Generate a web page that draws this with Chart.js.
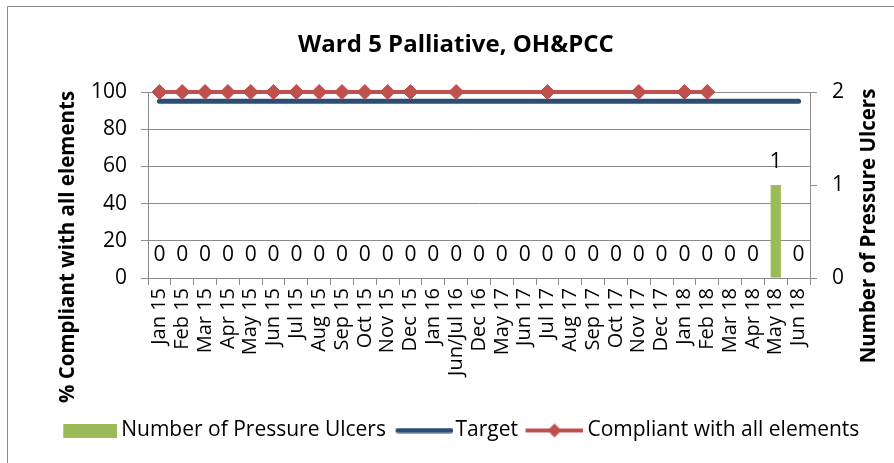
<!DOCTYPE html>
<html>
<head>
<meta charset="utf-8">
<title>Ward 5 Palliative, OH&amp;PCC</title>
<script src="https://cdn.jsdelivr.net/npm/chart.js@4.4.1/dist/chart.umd.min.js"></script>
<style>
  html, body { margin: 0; padding: 0; background: #fff; }
  #wrap { width: 894px; height: 463px; }
</style>
</head>
<body>
<div id="wrap"><canvas id="ward_chart" width="894" height="463"></canvas></div>
<script>
// chart data
const categories = ['Jan 15', 'Feb 15', 'Mar 15', 'Apr 15', 'May 15', 'Jun 15', 'Jul 15', 'Aug 15',
    'Sep 15', 'Oct 15', 'Nov 15', 'Dec 15', 'Jan 16', 'Jun/Jul 16', 'Dec 16', 'May 17', 'Jun 17',
    'Jul 17', 'Aug 17', 'Sep 17', 'Oct 17', 'Nov 17', 'Dec 17', 'Jan 18', 'Feb 18', 'Mar 18',
    'Apr 18', 'May 18', 'Jun 18'];

const pressureUlcers = [0, 0, 0, 0, 0, 0, 0, 0, 0, 0, 0, 0, 0, 0, 0, 0, 0, 0, 0, 0, 0, 0, 0, 0, 0, 0, 0, 1, 0];

const target = [95, 95, 95, 95, 95, 95, 95, 95, 95, 95, 95, 95, 95, 95, 95, 95, 95, 95, 95, 95, 95, 95, 95, 95, 95, 95, 95, 95, 95];

const compliant = [100, 100, 100, 100, 100, 100, 100, 100, 100, 100, 100, 100, null, 100, null, null, null,
    100, null, null, null, 100, null, 100, 100, null, null, null, null];

// months with no data where the line is broken (the other blanks are joined up)
const compliantBreaks = ['Dec 16', 'May 17', 'Jun 17'];

const leftTicks = [0, 20, 40, 60, 80, 100];
const rightTicks = [0, 1, 2];

const chartTitle = 'Ward 5 Palliative, OH&PCC';
const leftTitle = '% Compliant with all elements';
const rightTitle = 'Number of Pressure Ulcers';
const seriesNames = ['Number of Pressure Ulcers', 'Target', 'Compliant with all elements'];

const GREEN = '#9BBB59';
const NAVY = '#2C4D75';
const RED = '#C0504D';
const AXIS_GREY = '#8C8C8C';
const FONT = "'Open Sans', sans-serif";

Chart.defaults.font.family = FONT;
Chart.defaults.color = '#000';

function brokenBetween(a, b) {
    for (let i = a + 1; i < b; i++) {
        if (compliantBreaks.includes(categories[i])) return true;
    }
    return false;
}

// small canvases used as legend symbols
function legendIcon(kind) {
    const c = document.createElement('canvas');
    const g = c.getContext('2d');
    if (kind === 'bar') {
        c.width = 63; c.height = 14;
        g.fillStyle = GREEN;
        g.fillRect(9, 0, 54, 14);
    } else if (kind === 'target') {
        c.width = 67; c.height = 6;
        g.strokeStyle = NAVY;
        g.lineWidth = 5;
        g.lineCap = 'round';
        g.beginPath(); g.moveTo(11.5, 3); g.lineTo(64.5, 3); g.stroke();
    } else {
        c.width = 63; c.height = 16;
        g.strokeStyle = RED;
        g.lineWidth = 4;
        g.beginPath(); g.moveTo(5, 8); g.lineTo(63, 8); g.stroke();
        g.fillStyle = RED;
        g.beginPath(); g.moveTo(34, 1); g.lineTo(41, 8); g.lineTo(34, 15); g.lineTo(27, 8); g.closePath(); g.fill();
    }
    return c;
}
const legendIcons = [legendIcon('bar'), legendIcon('target'), legendIcon('line')];

// labels above the bars, frame and titles
const decorPlugin = {
    id: 'decor',
    beforeDraw(chart) {
        const ctx = chart.ctx;
        ctx.save();
        ctx.strokeStyle = AXIS_GREY;
        ctx.lineWidth = 1;
        ctx.beginPath();
        ctx.moveTo(7.5, 463);
        ctx.lineTo(7.5, 6.5);
        ctx.lineTo(894, 6.5);
        ctx.stroke();
        ctx.restore();
    },
    afterDraw(chart) {
        const ctx = chart.ctx;
        ctx.save();
        ctx.fillStyle = '#000';
        ctx.textAlign = 'center';
        ctx.textBaseline = 'middle';

        ctx.font = 'bold 24px ' + FONT;
        ctx.fillText(chartTitle, 456, 45);

        ctx.font = 'bold 20.5px ' + FONT;
        ctx.save();
        ctx.translate(68, 247);
        ctx.rotate(-Math.PI / 2);
        ctx.fillText(leftTitle, 0, 0);
        ctx.restore();

        ctx.save();
        ctx.translate(869, 226);
        ctx.rotate(-Math.PI / 2);
        ctx.fillText(rightTitle, 0, 0);
        ctx.restore();

        ctx.font = '21px ' + FONT;
        const meta = chart.getDatasetMeta(0);
        meta.data.forEach((bar, i) => {
            ctx.fillText(String(pressureUlcers[i]), bar.x, bar.y - 23);
        });
        ctx.restore();
    }
};

const ctx = document.getElementById('ward_chart');

new Chart(ctx, {
    type: 'bar',
    data: {
        labels: categories,
        datasets: [
            {
                type: 'bar',
                label: seriesNames[0],
                data: pressureUlcers,
                yAxisID: 'y1',
                backgroundColor: GREEN,
                barPercentage: 0.45,
                categoryPercentage: 1,
                order: 3
            },
            {
                type: 'line',
                label: seriesNames[1],
                data: target,
                yAxisID: 'y',
                borderColor: NAVY,
                borderWidth: 5,
                borderCapStyle: 'round',
                pointRadius: 0,
                clip: false,
                order: 2
            },
            {
                type: 'line',
                label: seriesNames[2],
                data: compliant,
                yAxisID: 'y',
                borderColor: RED,
                borderWidth: 4,
                backgroundColor: RED,
                pointStyle: 'rectRot',
                pointRadius: 7.5,
                pointBorderWidth: 1,
                pointBorderColor: RED,
                pointBackgroundColor: RED,
                spanGaps: true,
                clip: false,
                segment: {
                    borderColor: c => brokenBetween(c.p0DataIndex, c.p1DataIndex) ? 'transparent' : RED
                },
                order: 1
            }
        ]
    },
    options: {
        responsive: false,
        animation: false,
        devicePixelRatio: 1,
        layout: {
            padding: { top: 92, left: 26, right: 0, bottom: 12 }
        },
        scales: {
            x: {
                offset: true,
                grid: {
                    offset: true,
                    drawOnChartArea: false,
                    drawTicks: true,
                    tickLength: 7,
                    color: AXIS_GREY
                },
                border: { color: AXIS_GREY },
                ticks: {
                    autoSkip: false,
                    minRotation: 90,
                    maxRotation: 90,
                    padding: 3,
                    font: { size: 20 }
                },
                afterFit: s => { s.height = 133; }
            },
            y: {
                position: 'left',
                min: 0,
                max: 100,
                afterBuildTicks: s => { s.ticks = leftTicks.map(v => ({ value: v })); },
                grid: { color: AXIS_GREY, tickLength: 7 },
                border: { color: AXIS_GREY },
                ticks: { padding: 14, font: { size: 21 } },
                afterFit: s => { s.width = 122; }
            },
            y1: {
                position: 'right',
                min: 0,
                max: 2,
                afterBuildTicks: s => { s.ticks = rightTicks.map(v => ({ value: v })); },
                grid: { drawOnChartArea: false, color: AXIS_GREY, tickLength: 7 },
                border: { color: AXIS_GREY },
                ticks: { padding: 15, font: { size: 21 } },
                afterFit: s => { s.width = 84; }
            }
        },
        plugins: {
            title: { display: false },
            tooltip: { enabled: false },
            legend: {
                display: true,
                position: 'bottom',
                labels: {
                    usePointStyle: true,
                    pointStyleWidth: 50,
                    padding: 9,
                    color: '#000',
                    font: { size: 21 },
                    generateLabels: chart => chart.data.datasets.map((ds, i) => ({
                        text: ds.label,
                        pointStyle: legendIcons[i],
                        fillStyle: 'transparent',
                        strokeStyle: 'transparent',
                        lineWidth: 0,
                        hidden: false,
                        datasetIndex: i
                    }))
                }
            }
        }
    },
    plugins: [decorPlugin]
});
</script>
</body>
</html>
